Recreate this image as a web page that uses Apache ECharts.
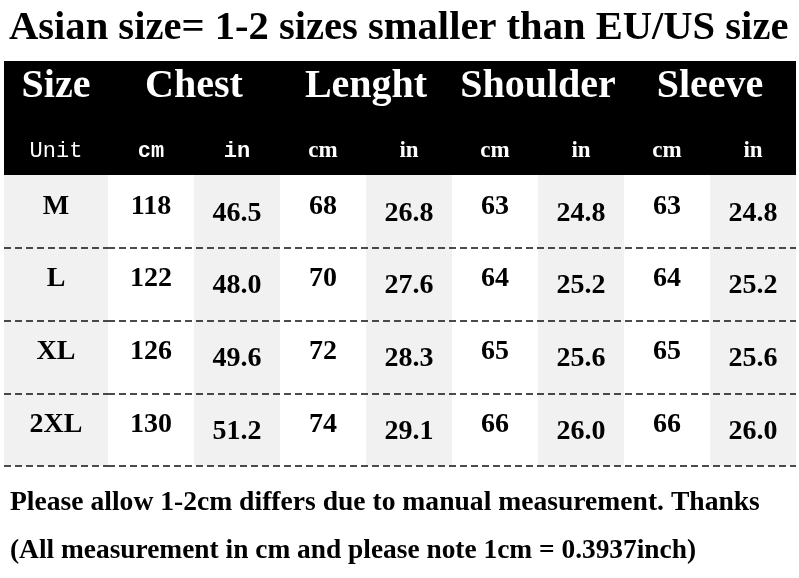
<!DOCTYPE html>
<html><head><meta charset="utf-8">
<script src="https://cdn.jsdelivr.net/npm/echarts@6/dist/echarts.min.js"></script>
<style>html,body{margin:0;padding:0;background:#fff}#c{width:799px;height:578px}</style>
</head><body><div id="c"></div>
<script>
const titleText = 'Asian size= 1-2 sizes smaller than EU/US size';
const noteLines = ['Please allow 1-2cm differs due to manual measurement. Thanks',
                   '(All measurement in cm and please note 1cm = 0.3937inch)'];
const sizeHeader = ['Size'];
const unitHeader = ['Unit'];
const sizes = ['M', 'L', 'XL', '2XL'];
const groups = ['Chest', 'Lenght', 'Shoulder', 'Sleeve'];
const units = ['cm', 'in', 'cm', 'in', 'cm', 'in', 'cm', 'in'];
const chestCm = [118, 122, 126, 130];
const chestIn = [46.5, 48.0, 49.6, 51.2];
const lengthCm = [68, 70, 72, 74];
const lengthIn = [26.8, 27.6, 28.3, 29.1];
const shoulderCm = [63, 64, 65, 66];
const shoulderIn = [24.8, 25.2, 25.6, 26.0];
const sleeveCm = [63, 64, 65, 66];
const sleeveIn = [24.8, 25.2, 25.6, 26.0];

const columns = [chestCm, chestIn, lengthCm, lengthIn, shoulderCm, shoulderIn, sleeveCm, sleeveIn];

const SERIF = "'Liberation Serif','DejaVu Serif',serif";
const MONO = "'Liberation Mono','DejaVu Sans Mono',monospace";

const cells = [];
columns.forEach((col, c) => {
  col.forEach((v, r) => {
    const isIn = units[c] === 'in';
    cells.push({ value: [c, r], text: isIn ? v.toFixed(1) : String(v), isIn: isIn });
  });
});
const sizeCells = sizes.map((s, r) => ({ value: [0, r], text: s }));

const chart = echarts.init(document.getElementById('c'), null, { renderer: 'canvas' });

const dashed = { show: true, interval: 0, showMinLine: false,
  lineStyle: { type: [7, 4], color: '#111', width: 1.5 } };

const option = {
  backgroundColor: '#fff',
  animation: false,
  title: [
    { text: titleText, left: 9, top: 8, padding: 0,
      textStyle: { fontFamily: SERIF, fontSize: 40.6, fontWeight: 'bold', color: '#000' } },
    { text: noteLines[0], left: 10, top: 489, padding: 0,
      textStyle: { fontFamily: SERIF, fontSize: 27.6, fontWeight: 'bold', color: '#000' } },
    { text: noteLines[1], left: 10, top: 537, padding: 0,
      textStyle: { fontFamily: SERIF, fontSize: 27.4, fontWeight: 'bold', color: '#000' } }
  ],
  grid: [
    { left: 4, width: 104, top: 175, height: 291, show: false },
    { left: 108, width: 688, top: 175, height: 291, show: false },
    { left: 4, width: 792, top: 61, height: 114, show: true, backgroundColor: '#000', borderWidth: 0, z: 0 }
  ],
  xAxis: [
    { gridIndex: 0, type: 'category', data: unitHeader, position: 'top', z: 1,
      axisLine: { show: false }, axisTick: { show: false },
      axisLabel: { interval: 0, color: '#fff', fontFamily: MONO, fontSize: 22, margin: 24, verticalAlign: 'middle' },
      splitArea: { show: true, interval: 0, areaStyle: { color: ['#f1f1f1'] } } },
    { gridIndex: 0, type: 'category', data: sizeHeader, position: 'top', z: 1,
      axisLine: { show: false }, axisTick: { show: false },
      axisLabel: { interval: 0, color: '#fff', fontFamily: SERIF, fontWeight: 'bold', fontSize: 40, margin: 88, verticalAlign: 'middle' } },
    { gridIndex: 1, type: 'category', data: units, position: 'top', z: 1,
      axisLine: { show: false }, axisTick: { show: false },
      axisLabel: { interval: 0, margin: 24, verticalAlign: 'middle',
        formatter: (v, i) => (i < 2 ? '{m|' + v + '}' : '{s|' + v + '}'),
        rich: {
          m: { color: '#fff', fontFamily: MONO, fontWeight: 'bold', fontSize: 22, verticalAlign: 'middle' },
          s: { color: '#fff', fontFamily: SERIF, fontWeight: 'bold', fontSize: 23, verticalAlign: 'middle' }
        } },
      splitArea: { show: true, interval: 0, areaStyle: { color: ['#ffffff', '#f1f1f1'] } } },
    { gridIndex: 1, type: 'category', data: groups, position: 'top', z: 1,
      axisLine: { show: false }, axisTick: { show: false },
      axisLabel: { interval: 0, color: '#fff', fontFamily: SERIF, fontWeight: 'bold', fontSize: 40, margin: 88, verticalAlign: 'middle' } },
    { gridIndex: 2, type: 'value', show: false }
  ],
  yAxis: [
    { gridIndex: 0, type: 'category', data: sizes, inverse: true, z: 3,
      axisLine: { show: false }, axisTick: { show: false }, axisLabel: { show: false }, splitLine: dashed },
    { gridIndex: 1, type: 'category', data: sizes, inverse: true, z: 3,
      axisLine: { show: false }, axisTick: { show: false }, axisLabel: { show: false }, splitLine: dashed },
    { gridIndex: 2, type: 'value', show: false }
  ],
  series: [
    { type: 'custom', xAxisIndex: 0, yAxisIndex: 0, data: sizeCells, z: 5,
      renderItem: (params, api) => {
        const p = api.coord([api.value(0), api.value(1)]);
        return { type: 'text', x: p[0], y: p[1] - 5,
          style: { text: sizeCells[params.dataIndex].text, fill: '#000', align: 'center', verticalAlign: 'middle',
            font: 'bold 28px ' + SERIF } };
      } },
    { type: 'custom', xAxisIndex: 2, yAxisIndex: 1, data: cells, z: 5,
      renderItem: (params, api) => {
        const cell = cells[params.dataIndex];
        const p = api.coord([api.value(0), api.value(1)]);
        return { type: 'text', x: p[0], y: p[1] + (cell.isIn ? 2 : -5),
          style: { text: cell.text, fill: '#000', align: 'center', verticalAlign: 'middle',
            font: 'bold 28px ' + SERIF } };
      } }
  ]
};
chart.setOption(option);
</script>
</body></html>
